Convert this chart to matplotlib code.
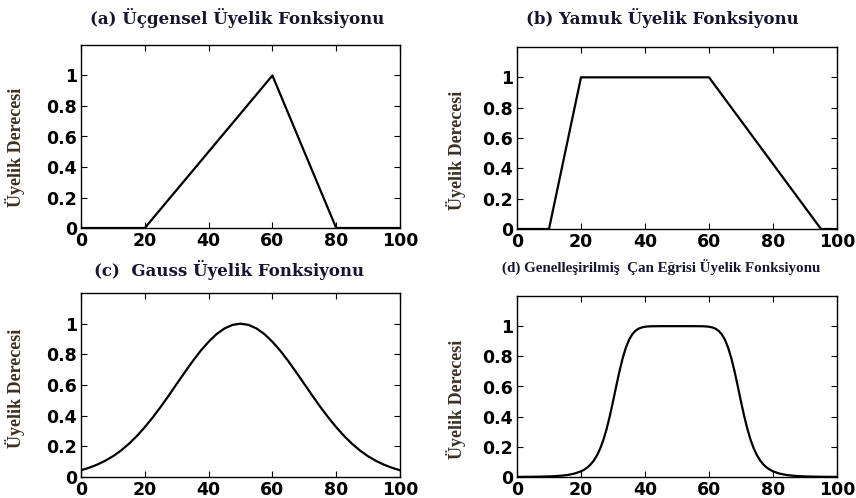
import matplotlib
matplotlib.use("Agg")
import matplotlib.pyplot as plt

# (a) ucgensel
tri_x = [0, 20, 60, 80, 100]
tri_y = [0, 0, 1, 0, 0]

# (b) yamuk
trap_x = [0, 10, 20, 60, 95, 100]
trap_y = [0, 0, 1, 1, 0, 0]

# (c) gauss, 2.5 aralikla okunan degerler
gauss_x = [0, 2.5, 5, 7.5, 10, 12.5, 15, 17.5, 20, 22.5, 25, 27.5, 30, 32.5, 35, 37.5, 40,
           42.5, 45, 47.5, 50, 52.5, 55, 57.5, 60, 62.5, 65, 67.5, 70, 72.5, 75, 77.5, 80,
           82.5, 85, 87.5, 90, 92.5, 95, 97.5, 100]
gauss_y = [0.044, 0.060, 0.080, 0.105, 0.135, 0.172, 0.216, 0.267, 0.325, 0.389, 0.458,
           0.531, 0.607, 0.682, 0.755, 0.823, 0.882, 0.932, 0.969, 0.992, 1.0,
           0.992, 0.969, 0.932, 0.882, 0.823, 0.755, 0.682, 0.607, 0.531, 0.458,
           0.389, 0.325, 0.267, 0.216, 0.172, 0.135, 0.105, 0.080, 0.060, 0.044]

# (d) genellestirilmis can egrisi
bell_x = [0, 5, 10, 12, 14, 16, 18, 20, 21, 22, 23, 24, 25, 26, 27, 28, 29, 30,
          31, 32, 33, 34, 35, 36, 37, 38, 39, 40, 41, 42, 45, 50,
          55, 58, 59, 60, 61, 62, 63, 64, 65, 66, 67, 68, 69, 70,
          71, 72, 73, 74, 75, 76, 77, 78, 79, 80, 82, 84, 86, 88, 90, 95, 100]
bell_y = [0.0007, 0.0015, 0.0039, 0.0059, 0.0090, 0.0141, 0.0228, 0.0376, 0.0487, 0.0635,
          0.0831, 0.1092, 0.1437, 0.1887, 0.2464, 0.3181, 0.4036, 0.5,
          0.6012, 0.6991, 0.7859, 0.8563, 0.9090, 0.9455, 0.9691, 0.9835, 0.9917, 0.9961,
          0.9983, 0.9993, 1.0, 1.0,
          1.0, 0.9993, 0.9983, 0.9961, 0.9917, 0.9835, 0.9691, 0.9455, 0.9090, 0.8563,
          0.7859, 0.6991, 0.6012, 0.5,
          0.4036, 0.3181, 0.2464, 0.1887, 0.1437, 0.1092, 0.0831, 0.0635, 0.0487, 0.0376,
          0.0228, 0.0141, 0.0090, 0.0059, 0.0039, 0.0015, 0.0007]

titles = ["(a) Üçgensel Üyelik Fonksiyonu", "(b) Yamuk Üyelik Fonksiyonu",
          "(c)  Gauss Üyelik Fonksiyonu", "(d) Genelleşirilmiş  Çan Eğrisi Üyelik Fonksiyonu"]
ylabel = "Üyelik Derecesi"
xticks = [0, 20, 40, 60, 80, 100]
yticks = [0, 0.2, 0.4, 0.6, 0.8, 1]
ytick_labels = ["0", "0.2", "0.4", "0.6", "0.8", "1"]

W, H = 856, 498
fig = plt.figure(figsize=(W / 100, H / 100), dpi=100)

# piksel olarak kutular: sol, ust, sag, alt
boxes = [(81, 45, 400, 228), (517, 47, 837, 229), (81, 293, 400, 477), (517, 296, 837, 477)]
title_pos = [(237, 18), (662, 18), (229, 270), (661, 268)]
title_font = [("DejaVu Serif", 12), ("DejaVu Serif", 12), ("DejaVu Serif", 12),
              ("Liberation Serif", 10.8)]
label_pos = [(-0.175, 0.44), (-0.16, 0.43), (-0.175, 0.48), (-0.16, 0.43)]
series = [(tri_x, tri_y), (trap_x, trap_y), (gauss_x, gauss_y), (bell_x, bell_y)]

for i in range(4):
    l, t, r, b = boxes[i]
    ax = fig.add_axes([l / W, (H - b) / H, (r - l) / W, (b - t) / H])
    x, y = series[i]
    ax.plot(x, y, color="black", linewidth=1.6)
    ax.set_xlim(0, 100)
    ax.set_ylim(0, 1.2)
    ax.set_xticks(xticks)
    ax.set_yticks(yticks)
    ax.set_xticklabels([str(v) for v in xticks])
    ax.set_yticklabels(ytick_labels)
    ax.tick_params(direction="in", length=4, width=0.8, top=True, right=True, pad=3)
    for lab in ax.get_xticklabels() + ax.get_yticklabels():
        lab.set_fontfamily("DejaVu Sans")
        lab.set_fontweight("bold")
        lab.set_fontsize(12.5)
    for s in ax.spines.values():
        s.set_linewidth(1.0)
    ax.set_ylabel(ylabel, family="Liberation Serif", fontweight="bold", fontsize=13, color="#3a3024")
    ax.yaxis.set_label_coords(*label_pos[i])
    tx, ty = title_pos[i]
    fam, fs = title_font[i]
    fig.text(tx / W, 1 - ty / H, titles[i], ha="center", va="center", family=fam,
             fontweight="bold", fontsize=fs, color="#15152e")

fig.savefig("out.png", dpi=100)
